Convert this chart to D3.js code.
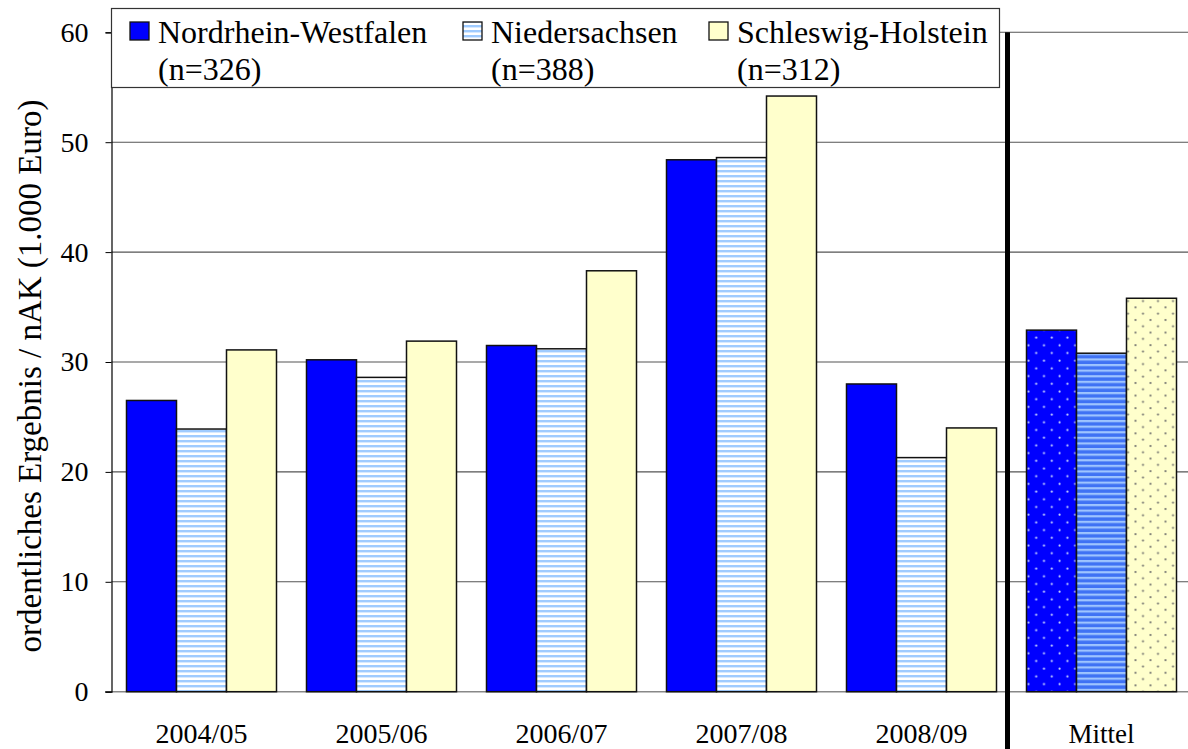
<!DOCTYPE html>
<html>
<head>
    <meta charset="UTF-8">
    <title>ordentliches Ergebnis</title>
    <script src="https://cdn.jsdelivr.net/npm/d3@7"></script>
    <style>
        body { margin: 0; background: #fff; }
        svg { display: block; }
        text { font-family: "Liberation Serif", "Times New Roman", serif; fill: #000; }
    </style>
</head>
<body>
<script>

    var width = 1188,
        Height = 749;

    // data
    var categories = ["2004/05", "2005/06", "2006/07", "2007/08", "2008/09", "Mittel"];
    var seriesNames = ["Nordrhein-Westfalen", "Niedersachsen", "Schleswig-Holstein"];
    var seriesN = ["(n=326)", "(n=388)", "(n=312)"];
    var valuesNRW = [26.5, 30.2, 31.5, 48.4, 28.0, 32.9];
    var valuesNDS = [23.9, 28.6, 31.2, 48.6, 21.3, 30.8];
    var valuesSH  = [31.1, 31.9, 38.3, 54.2, 24.0, 35.8];
    var yTicks = [0, 10, 20, 30, 40, 50, 60];
    var yTitle = "ordentliches Ergebnis / nAK (1.000 Euro)";

    var allValues = [valuesNRW, valuesNDS, valuesSH];

    var svg = d3.select("body").append("svg")
        .attr("width", width)
        .attr("height", Height);

    // patterns
    var defs = svg.append("defs");

    var p1 = defs.append("pattern").attr("id", "stripeLight")
        .attr("patternUnits", "userSpaceOnUse").attr("width", 6).attr("height", 5);
    p1.append("rect").attr("width", 6).attr("height", 5).attr("fill", "#ffffff");
    p1.append("rect").attr("width", 6).attr("height", 2.2).attr("fill", "#9fcbff");
    p1.append("rect").attr("y", 2.2).attr("width", 6).attr("height", 0.8).attr("fill", "#d2e7ff");

    var p2 = defs.append("pattern").attr("id", "stripeDark")
        .attr("patternUnits", "userSpaceOnUse").attr("width", 6).attr("height", 5.6);
    p2.append("rect").attr("width", 6).attr("height", 5.6).attr("fill", "#3f72f4");
    p2.append("rect").attr("width", 6).attr("height", 2.2).attr("fill", "#9ec4ff");

    var p3 = defs.append("pattern").attr("id", "dotsBlue")
        .attr("patternUnits", "userSpaceOnUse").attr("width", 15.6).attr("height", 15.4)
        .attr("x", 1028).attr("y", 3);
    p3.append("rect").attr("width", 15.6).attr("height", 15.4).attr("fill", "#0000ff");
    p3.append("circle").attr("cx", 3.5).attr("cy", 3.5).attr("r", 1.1).attr("fill", "#c8d4ff");
    p3.append("circle").attr("cx", 11.3).attr("cy", 11.2).attr("r", 1.1).attr("fill", "#c8d4ff");

    var p4 = defs.append("pattern").attr("id", "dotsYellow")
        .attr("patternUnits", "userSpaceOnUse").attr("width", 15).attr("height", 12.6)
        .attr("x", 1126).attr("y", 2);
    p4.append("rect").attr("width", 15).attr("height", 12.6).attr("fill", "#ffffcc");
    p4.append("circle").attr("cx", 3).attr("cy", 3).attr("r", 1).attr("fill", "#666666");
    p4.append("circle").attr("cx", 10.5).attr("cy", 9.3).attr("r", 1).attr("fill", "#666666");

    var solidFill = ["#0000ff", "url(#stripeLight)", "#ffffcc"];
    var mittelFill = ["url(#dotsBlue)", "url(#stripeDark)", "url(#dotsYellow)"];

    // scales
    var y = d3.scaleLinear().domain([0, 60]).range([691.7, 32.3]);

    var x0 = d3.scaleBand()
        .domain(categories)
        .range([111.5, 1191.5])
        .paddingInner(1 / 6)
        .paddingOuter(1 / 12);

    var x1 = d3.scaleBand()
        .domain(d3.range(seriesNames.length))
        .range([0, x0.bandwidth()]);

    // gridlines
    svg.append("g").selectAll("line")
        .data(yTicks.filter(function(d) { return d > 0; }))
        .enter().append("line")
        .attr("x1", 111.5).attr("x2", width)
        .attr("y1", function(d) { return y(d); })
        .attr("y2", function(d) { return y(d); })
        .attr("stroke", "#555")
        .attr("stroke-width", 1.1);

    // baseline
    svg.append("line")
        .attr("x1", 105).attr("x2", width)
        .attr("y1", y(0)).attr("y2", y(0))
        .attr("stroke", "#888")
        .attr("stroke-width", 1.6);

    // bars
    var groups = svg.append("g").selectAll("g")
        .data(categories)
        .enter().append("g")
        .attr("transform", function(d) { return "translate(" + x0(d) + ",0)"; });

    groups.selectAll("rect")
        .data(function(c, ci) {
            return allValues.map(function(vals, si) {
                return { series: si, value: vals[ci], cat: c };
            });
        })
        .enter().append("rect")
        .attr("x", function(d) { return x1(d.series); })
        .attr("width", x1.bandwidth())
        .attr("y", function(d) { return y(d.value); })
        .attr("height", function(d) { return y(0) - y(d.value); })
        .attr("fill", function(d) {
            return d.cat === "Mittel" ? mittelFill[d.series] : solidFill[d.series];
        })
        .attr("stroke", "#111")
        .attr("stroke-width", 1.5);

    // y axis
    var yAxis = d3.axisLeft(y)
        .tickValues(yTicks)
        .tickSize(6)
        .tickPadding(17);

    var yAxisG = svg.append("g")
        .attr("transform", "translate(111.5,0)")
        .call(yAxis);
    yAxisG.select(".domain").attr("stroke", "#000").attr("stroke-width", 1.2);
    yAxisG.selectAll(".tick line").attr("stroke", "#000");
    yAxisG.selectAll(".tick text")
        .style("font-family", "'Liberation Serif', serif")
        .style("font-size", "28px")
        .attr("fill", "#000");

    // x labels
    svg.append("g").selectAll("text")
        .data(categories)
        .enter().append("text")
        .attr("x", function(d) { return x0(d) + x0.bandwidth() / 2; })
        .attr("y", 743)
        .attr("text-anchor", "middle")
        .style("font-size", function(d) { return d === "Mittel" ? "27px" : "28px"; })
        .text(function(d) { return d; });

    // y title
    svg.append("text")
        .attr("transform", "translate(41,376) rotate(-90)")
        .attr("text-anchor", "middle")
        .style("font-size", "33px")
        .text(yTitle);

    // legend
    var legend = svg.append("g");
    legend.append("rect")
        .attr("x", 111.5).attr("y", 8.5)
        .attr("width", 888).attr("height", 79)
        .attr("fill", "#fff")
        .attr("stroke", "#333")
        .attr("stroke-width", 1.2);

    var legendX = [130, 463, 709];
    var items = legend.selectAll("g.item")
        .data(seriesNames)
        .enter().append("g")
        .attr("class", "item")
        .attr("transform", function(d, i) { return "translate(" + legendX[i] + ",0)"; });

    items.append("rect")
        .attr("x", 0).attr("y", 22)
        .attr("width", 19).attr("height", 18)
        .attr("fill", function(d, i) { return solidFill[i]; })
        .attr("stroke", "#111")
        .attr("stroke-width", 1.3);

    items.append("text")
        .attr("x", 28).attr("y", 43)
        .style("font-size", "32px")
        .text(function(d) { return d; });

    items.append("text")
        .attr("x", 28).attr("y", 80)
        .style("font-size", "32px")
        .text(function(d, i) { return seriesN[i]; });

    // divider before Mittel
    svg.append("line")
        .attr("x1", 1007.5).attr("x2", 1007.5)
        .attr("y1", y(60)).attr("y2", Height)
        .attr("stroke", "#000")
        .attr("stroke-width", 5);

</script>
</body>
</html>
